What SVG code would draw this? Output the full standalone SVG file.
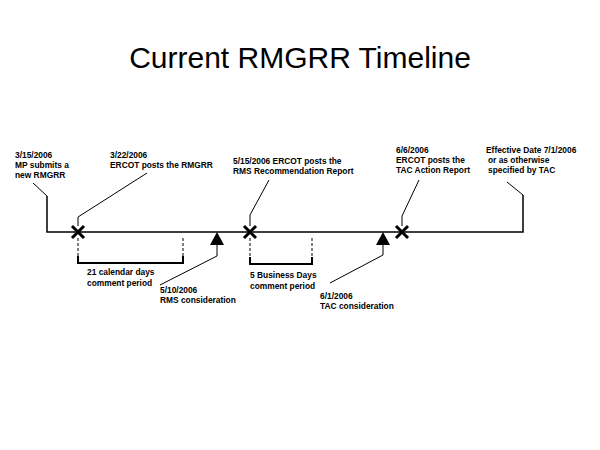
<svg xmlns="http://www.w3.org/2000/svg" width="600" height="450" viewBox="0 0 600 450">
<style>
.t{font-family:"Liberation Sans",Arial,sans-serif;font-size:8.4px;font-weight:bold;fill:#000}
.title{font-family:"Liberation Sans",Arial,sans-serif;font-size:30px;fill:#000}
.ln{stroke:#000;stroke-width:1;fill:none}
.main{stroke:#000;stroke-width:1.5;fill:none}
.x{stroke:#000;stroke-width:3;fill:none}
.dash{stroke:#000;stroke-width:1;stroke-dasharray:3,2;fill:none}
.br{stroke:#000;stroke-width:2;fill:none}
</style>
<rect width="600" height="450" fill="#fff"/>
<text class="title" x="300" y="68" text-anchor="middle">Current RMGRR Timeline</text>
<g id="connectors">
<path class="main" d="M47,196 V232 H523 V195"/>
<path class="ln" d="M47,196 L33,183"/>
<path class="ln" d="M523,195 L507,182"/>
<path class="ln" d="M78,226 V217 L147,173"/>
<path class="ln" d="M250,226 V215 L269,180"/>
<path class="ln" d="M402,226 V216 L419,180"/>
<path class="ln" d="M217,245 V256 L160,285"/>
<path class="ln" d="M383,245 V255 L330,283"/>
</g>
<g id="bracket1">
<path class="dash" d="M78,238 V257 M183,238 V257"/>
<path class="br" d="M78,256 V263 H183 V256"/>
<text class="t" x="87" y="275">21 calendar days</text>
<text class="t" x="87" y="286">comment period</text>
</g>
<g id="bracket2">
<path class="dash" d="M250,238 V258 M312,238 V258"/>
<path class="br" d="M250,257 V264 H312 V257"/>
<text class="t" x="250" y="278">5 Business Days</text>
<text class="t" x="250" y="289">comment period</text>
</g>
<g id="n1">
<text class="t" x="15" y="158">3/15/2006</text>
<text class="t" x="15" y="168">MP submits a</text>
<text class="t" x="15" y="178">new RMGRR</text>
</g>
<g id="n2">
<path class="x" d="M72,226 L84,238 M84,226 L72,238"/>
<text class="t" x="110" y="158">3/22/2006</text>
<text class="t" x="110" y="168">ERCOT posts the RMGRR</text>
</g>
<g id="n3">
<path d="M217,232 L210,245 H224 Z" fill="#000"/>
<text class="t" x="160" y="293">5/10/2006</text>
<text class="t" x="160" y="303">RMS consideration</text>
</g>
<g id="n4">
<path class="x" d="M244,226 L256,238 M256,226 L244,238"/>
<text class="t" x="233" y="164">5/15/2006 ERCOT posts the</text>
<text class="t" x="233" y="174">RMS Recommendation Report</text>
</g>
<g id="n5">
<path d="M383,232 L376,245 H390 Z" fill="#000"/>
<text class="t" x="320" y="299">6/1/2006</text>
<text class="t" x="320" y="309">TAC consideration</text>
</g>
<g id="n6">
<path class="x" d="M396,226 L408,238 M408,226 L396,238"/>
<text class="t" x="396" y="153">6/6/2006</text>
<text class="t" x="396" y="163">ERCOT posts the</text>
<text class="t" x="396" y="173">TAC Action Report</text>
</g>
<g id="n7">
<text class="t" x="486" y="153">Effective Date 7/1/2006</text>
<text class="t" x="488" y="163">or as otherwise</text>
<text class="t" x="488" y="173">specified by TAC</text>
</g>
</svg>
